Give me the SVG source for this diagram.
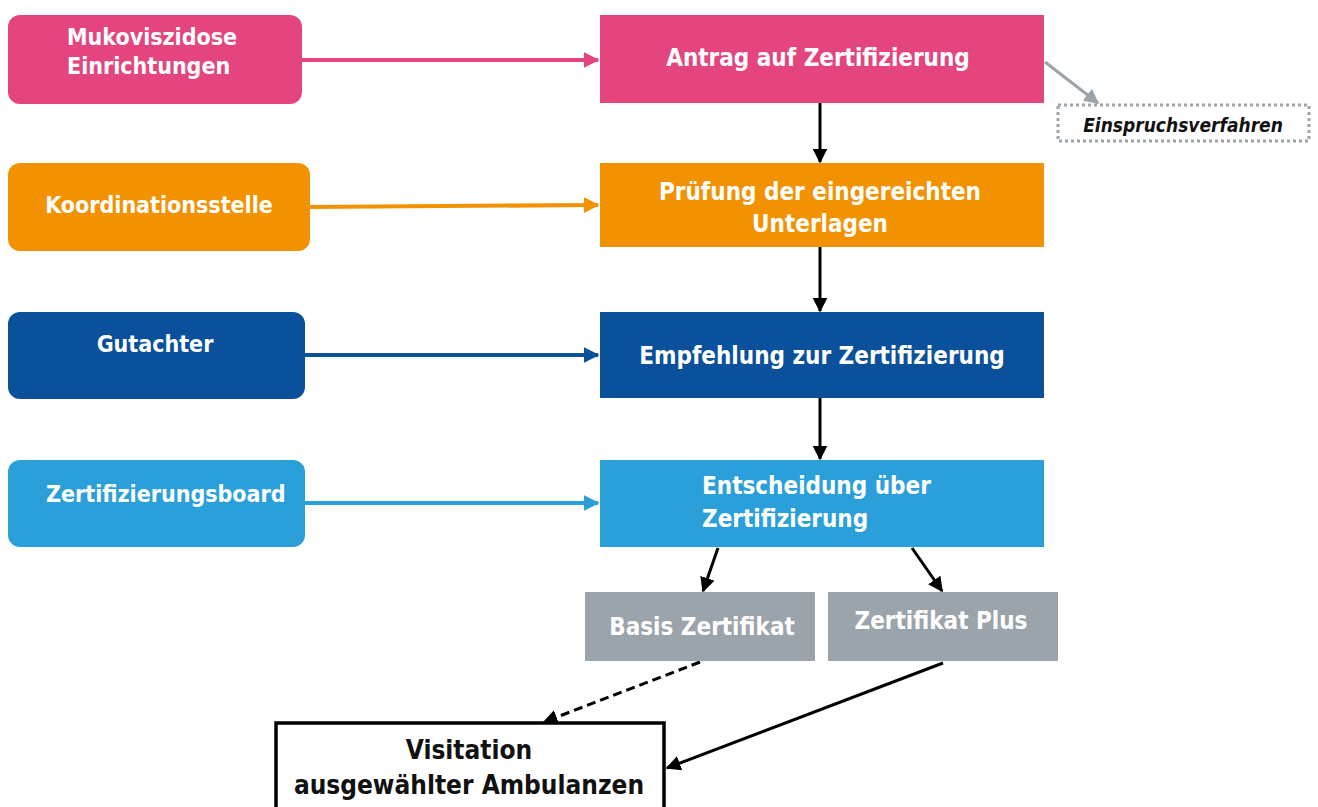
<svg xmlns="http://www.w3.org/2000/svg" width="1318" height="807" viewBox="0 0 1318 807">
<style>
text{font-family:"Liberation Sans Narrow","DejaVu Sans Condensed","Liberation Sans",sans-serif;font-weight:bold;fill:#fff}
.lt{font-size:23px}
.mt{font-size:24px}
.ein{font-size:19px;font-style:italic;fill:#111}
.vis{font-size:26px;fill:#111;font-weight:600}
.ln{fill:none}
</style>
<defs>
<marker id="mp" viewBox="0 0 10 10" refX="9" refY="5" markerWidth="4" markerHeight="4" orient="auto" markerUnits="strokeWidth"><path d="M0,0L10,5L0,10z" fill="#e5457e"/></marker>
<marker id="mo" viewBox="0 0 10 10" refX="9" refY="5" markerWidth="4" markerHeight="4" orient="auto" markerUnits="strokeWidth"><path d="M0,0L10,5L0,10z" fill="#f39200"/></marker>
<marker id="md" viewBox="0 0 10 10" refX="9" refY="5" markerWidth="4" markerHeight="4" orient="auto" markerUnits="strokeWidth"><path d="M0,0L10,5L0,10z" fill="#0a509b"/></marker>
<marker id="ml" viewBox="0 0 10 10" refX="9" refY="5" markerWidth="4" markerHeight="4" orient="auto" markerUnits="strokeWidth"><path d="M0,0L10,5L0,10z" fill="#2a9fd9"/></marker>
<marker id="mg" viewBox="0 0 10 10" refX="9" refY="5" markerWidth="5" markerHeight="5" orient="auto" markerUnits="strokeWidth"><path d="M0,0L10,5L0,10z" fill="#9ba4aa"/></marker>
<marker id="mk" viewBox="0 0 10 10" refX="9" refY="5" markerWidth="5" markerHeight="5" orient="auto" markerUnits="strokeWidth"><path d="M0,0L10,5L0,10z" fill="#000"/></marker>
</defs>
<rect width="1318" height="807" fill="#fff"/>

<g id="connectors">
<line class="ln" x1="302" y1="60" x2="598" y2="60" stroke="#e5457e" stroke-width="4" marker-end="url(#mp)"/>
<line class="ln" x1="310" y1="207" x2="598" y2="205" stroke="#f39200" stroke-width="4" marker-end="url(#mo)"/>
<line class="ln" x1="305" y1="355" x2="598" y2="355" stroke="#0a509b" stroke-width="4" marker-end="url(#md)"/>
<line class="ln" x1="305" y1="503" x2="598" y2="503" stroke="#2a9fd9" stroke-width="4" marker-end="url(#ml)"/>
<line class="ln" x1="1045" y1="62" x2="1098" y2="103" stroke="#9ba4aa" stroke-width="3" marker-end="url(#mg)"/>
<line class="ln" x1="820" y1="103" x2="820" y2="162" stroke="#000" stroke-width="3" marker-end="url(#mk)"/>
<line class="ln" x1="820" y1="247" x2="820" y2="311" stroke="#000" stroke-width="3" marker-end="url(#mk)"/>
<line class="ln" x1="820" y1="398" x2="820" y2="459" stroke="#000" stroke-width="3" marker-end="url(#mk)"/>
<line class="ln" x1="718" y1="548" x2="703" y2="591" stroke="#000" stroke-width="3" marker-end="url(#mk)"/>
<line class="ln" x1="912" y1="548" x2="942" y2="591" stroke="#000" stroke-width="3" marker-end="url(#mk)"/>
<line class="ln" x1="700" y1="662" x2="544" y2="722" stroke="#000" stroke-width="3" stroke-dasharray="9,5" marker-end="url(#mk)"/>
<line class="ln" x1="943" y1="663" x2="667" y2="768" stroke="#000" stroke-width="3" marker-end="url(#mk)"/>
</g>

<g id="n-muko"><rect x="8" y="15" width="294" height="89" rx="12" fill="#e5457e"/>
<text class="lt" x="67" y="45">Mukoviszidose</text><text class="lt" x="67" y="74">Einrichtungen</text></g>
<g id="n-antrag"><rect x="600" y="15" width="444" height="88" fill="#e5457e"/>
<text class="mt" x="818" y="66" text-anchor="middle">Antrag auf Zertifizierung</text></g>
<g id="n-einspruch"><rect x="1058" y="105" width="251" height="36" fill="none" stroke="#9ba4aa" stroke-width="3" stroke-dasharray="3,3"/>
<text class="ein" x="1183" y="132" text-anchor="middle">Einspruchsverfahren</text></g>

<g id="n-koord"><rect x="8" y="163" width="302" height="88" rx="12" fill="#f39200"/>
<text class="lt" x="159" y="213" text-anchor="middle">Koordinationsstelle</text></g>
<g id="n-pruef"><rect x="600" y="163" width="444" height="84" fill="#f39200"/>
<text class="mt" x="820" y="200" text-anchor="middle">Prüfung der eingereichten</text>
<text class="mt" x="820" y="232" text-anchor="middle">Unterlagen</text></g>

<g id="n-gut"><rect x="8" y="312" width="297" height="87" rx="12" fill="#0a509b"/>
<text class="lt" x="155" y="352" text-anchor="middle">Gutachter</text></g>
<g id="n-empf"><rect x="600" y="312" width="444" height="86" fill="#0a509b"/>
<text class="mt" x="822" y="364" text-anchor="middle">Empfehlung zur Zertifizierung</text></g>

<g id="n-board"><rect x="8" y="460" width="297" height="87" rx="12" fill="#2a9fd9"/>
<text class="lt" x="46" y="502">Zertifizierungsboard</text></g>
<g id="n-entsch"><rect x="600" y="460" width="444" height="87" fill="#2a9fd9"/>
<text class="mt" x="702" y="494">Entscheidung über</text>
<text class="mt" x="702" y="527">Zertifizierung</text></g>

<g id="n-basis"><rect x="585" y="592" width="230" height="69" fill="#9ba4aa"/>
<text class="mt" x="702" y="635" text-anchor="middle">Basis Zertifikat</text></g>
<g id="n-plus"><rect x="828" y="592" width="230" height="69" fill="#9ba4aa"/>
<text class="mt" x="941" y="629" text-anchor="middle">Zertifikat Plus</text></g>

<g id="n-visit"><rect x="276" y="723" width="388" height="90" fill="#fff" stroke="#000" stroke-width="3.5"/>
<text class="vis" x="469" y="759" text-anchor="middle">Visitation</text>
<text class="vis" x="469" y="794" text-anchor="middle">ausgewählter Ambulanzen</text></g>
</svg>
